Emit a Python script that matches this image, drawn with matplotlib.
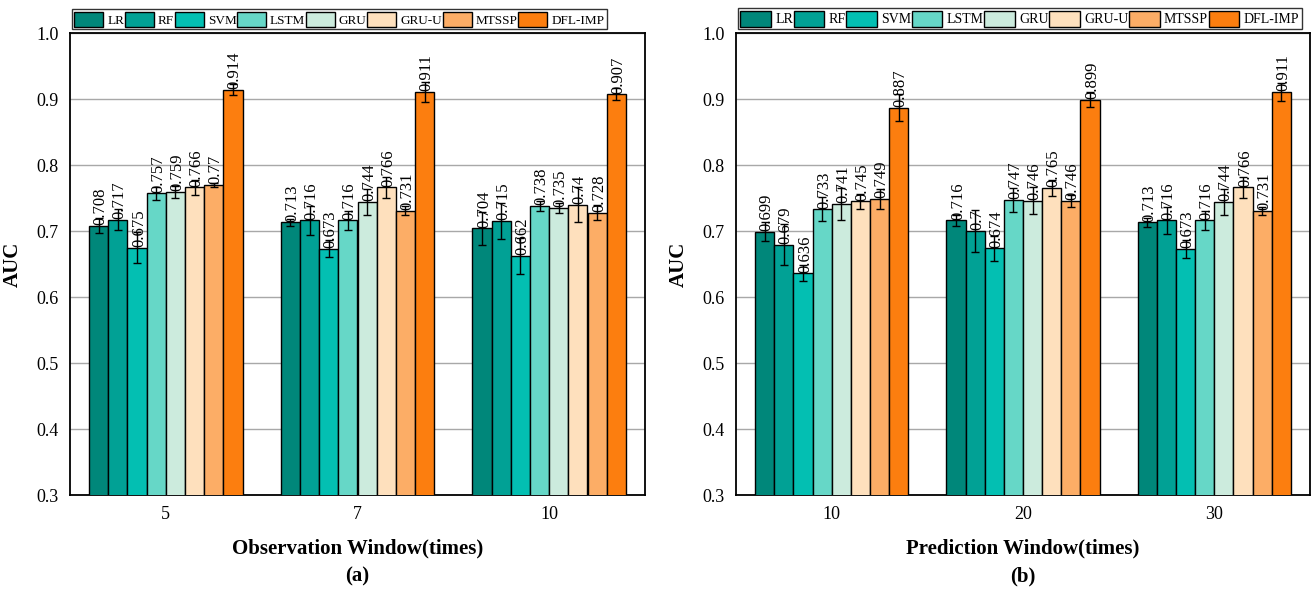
import matplotlib
matplotlib.use("Agg")
import matplotlib.pyplot as plt
import numpy as np

plt.rcParams['font.family'] = ['Liberation Serif', 'DejaVu Serif']

models = ["LR", "RF", "SVM", "LSTM", "GRU", "GRU-U", "MTSSP", "DFL-IMP"]
colors = ["#00877A", "#01A195", "#03BFB2", "#66D7C7", "#CCEBDD", "#FEE0BD", "#FCAD66", "#FC7E0F"]

obs_windows = ["5", "7", "10"]
obs_auc = [
    [0.708, 0.713, 0.704],
    [0.717, 0.716, 0.715],
    [0.675, 0.673, 0.662],
    [0.757, 0.716, 0.738],
    [0.759, 0.744, 0.735],
    [0.766, 0.766, 0.740],
    [0.770, 0.731, 0.728],
    [0.914, 0.911, 0.907],
]
obs_err = [
    [0.011, 0.005, 0.025],
    [0.016, 0.022, 0.027],
    [0.023, 0.013, 0.027],
    [0.010, 0.015, 0.008],
    [0.009, 0.020, 0.008],
    [0.011, 0.016, 0.027],
    [0.003, 0.007, 0.011],
    [0.008, 0.015, 0.009],
]

pred_windows = ["10", "20", "30"]
pred_auc = [
    [0.699, 0.716, 0.713],
    [0.679, 0.700, 0.716],
    [0.636, 0.674, 0.673],
    [0.733, 0.747, 0.716],
    [0.741, 0.746, 0.744],
    [0.745, 0.765, 0.766],
    [0.749, 0.746, 0.731],
    [0.887, 0.899, 0.911],
]
pred_err = [
    [0.014, 0.008, 0.007],
    [0.031, 0.032, 0.020],
    [0.012, 0.019, 0.014],
    [0.018, 0.018, 0.015],
    [0.024, 0.020, 0.020],
    [0.011, 0.012, 0.016],
    [0.015, 0.009, 0.006],
    [0.021, 0.011, 0.014],
]

fig = plt.figure(figsize=(13.12, 5.92), dpi=100)
ax1 = fig.add_axes([70/1312, 1-495/592, 575/1312, 462/592])
ax2 = fig.add_axes([736/1312, 1-495/592, 574/1312, 462/592])

def fmt(v):
    s = ("%.3f" % v).rstrip('0').rstrip('.')
    return s

def draw(ax, cats, auc, err, xlabel, tag, legsize, hlen):
    n = len(models)
    bw = 0.1
    x = np.arange(len(cats))
    for i in range(n):
        pos = x + (i - (n - 1) / 2) * bw
        ax.bar(pos, auc[i], bw, bottom=0, color=colors[i], edgecolor='black',
               linewidth=1.0, label=models[i], zorder=3,
               yerr=err[i], capsize=3, error_kw=dict(ecolor='black', elinewidth=1.0, capthick=1.0, zorder=4))
        for p, v in zip(pos, auc[i]):
            ax.text(p + 0.01, v + 0.001, fmt(v), rotation=90, ha='center', va='bottom',
                    fontsize=12, zorder=5)
    ax.set_ylim(0.3, 1.0)
    ax.set_xlim(-0.5, len(cats) - 0.5)
    ax.set_xticks(x)
    ax.set_xticklabels(cats)
    ax.set_yticks(np.arange(0.3, 1.01, 0.1))
    ax.set_yticklabels(["%.1f" % t for t in np.arange(0.3, 1.01, 0.1)])
    ax.tick_params(axis='both', length=0, labelsize=13, pad=8)
    ax.yaxis.grid(True, color='#a8a8a8', linewidth=1.0, zorder=0)
    ax.set_axisbelow(True)
    for s in ax.spines.values():
        s.set_linewidth(1.3)
    ax.set_ylabel("AUC", fontsize=15, fontweight='bold', labelpad=10)
    ax.set_xlabel(xlabel, fontsize=15, fontweight='bold', labelpad=11)
    ax.text(0.5, -0.176, tag, transform=ax.transAxes, ha='center', va='center',
            fontsize=15, fontweight='bold')
    leg = ax.legend(loc='lower left', bbox_to_anchor=(0.003, 1.008), ncol=8,
                    fontsize=legsize, frameon=True, fancybox=False,
                    edgecolor='black', handlelength=hlen, handleheight=1.35,
                    handletextpad=0.3, columnspacing=0.05, borderpad=0.2,
                    borderaxespad=0.0)
    leg.get_frame().set_linewidth(1.0)

draw(ax1, obs_windows, obs_auc, obs_err, "Observation Window(times)", "(a)", 9.5, 2.2)
draw(ax2, pred_windows, pred_auc, pred_err, "Prediction Window(times)", "(b)", 10, 2.2)

fig.savefig("out.png", dpi=100)
